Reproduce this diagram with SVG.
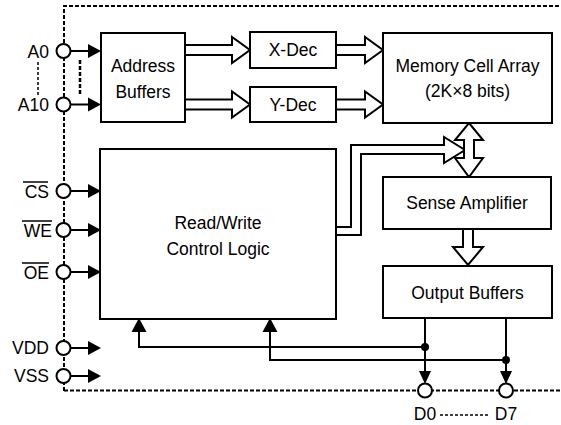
<svg xmlns="http://www.w3.org/2000/svg" width="561" height="425" viewBox="0 0 561 425">
<style>
  .box { fill: #fff; stroke: #000; stroke-width: 2; }
  .t { font-family: "Liberation Sans", Arial, sans-serif; font-size: 17.5px; fill: #000; text-anchor: middle; }
  .pl { font-family: "Liberation Sans", Arial, sans-serif; font-size: 17.5px; fill: #000; text-anchor: end; }
  .border { fill: none; stroke: #000; stroke-width: 2; stroke-dasharray: 4 2; }
  .wire { fill: none; stroke: #000; stroke-width: 2; }
  .hollow { fill: #fff; stroke: #000; stroke-width: 2; stroke-linejoin: miter; }
  .pin { fill: #fff; stroke: #000; stroke-width: 2; }
  .head { fill: #000; stroke: none; }
  .ol { stroke: #000; stroke-width: 1.5; }
</style>
<rect width="561" height="425" fill="#fff"/>

<!-- package border -->
<path class="border" d="M64,391 V6 H561"/>
<path class="border" d="M64,390.5 H561"/>

<g id="connectors">
  <!-- pin arrows -->
  <g class="wire">
    <line x1="70" y1="51" x2="89" y2="51"/>
    <line x1="70" y1="104.5" x2="89" y2="104.5"/>
    <line x1="70" y1="191" x2="89" y2="191"/>
    <line x1="70" y1="230" x2="89" y2="230"/>
    <line x1="70" y1="272" x2="89" y2="272"/>
    <line x1="70" y1="348" x2="89" y2="348"/>
    <line x1="70" y1="376" x2="89" y2="376"/>
  </g>
  <g class="head">
    <polygon points="88,44 101,51 88,58"/>
    <polygon points="88,97.5 101,104.5 88,111.5"/>
    <polygon points="88,184 101,191 88,198"/>
    <polygon points="88,223 101,230 88,237"/>
    <polygon points="88,265 101,272 88,279"/>
    <polygon points="88,341 101,348 88,355"/>
    <polygon points="88,369 101,376 88,383"/>
  </g>
  <!-- A0..A10 dotted indications -->
  <line x1="38" y1="62" x2="38" y2="97" stroke="#000" stroke-width="1.5" stroke-dasharray="3 2"/>
  <line x1="80" y1="60" x2="80" y2="96" stroke="#000" stroke-width="2.5" stroke-dasharray="4 2"/>

  <!-- hollow bus arrows -->
  <polygon class="hollow" points="185,45 232,45 232,37 250,50 232,63 232,55 185,55"/>
  <polygon class="hollow" points="185,99.5 232,99.5 232,91.5 250,104.5 232,117.5 232,109.5 185,109.5"/>
  <polygon class="hollow" points="336,45 365,45 365,37 383,50 365,63 365,55 336,55"/>
  <polygon class="hollow" points="336,99.5 365,99.5 365,91.5 383,104.5 365,117.5 365,109.5 336,109.5"/>
  <polygon class="hollow" points="336,227 351,227 351,145 444,145 444,137 465,150 444,163 444,154 361,154 361,235 336,235"/>
  <polygon class="hollow" points="469,123 483,140 474,140 474,158 483,158 469,177 455,158 464,158 464,140 455,140"/>
  <polygon class="hollow" points="463,229 473,229 473,247 483,247 468,265 453,247 463,247"/>

  <!-- output feedback wires -->
  <path class="wire" d="M425,318 V373"/>
  <path class="wire" d="M506,318 V373"/>
  <path class="wire" d="M425,347 H139 V331"/>
  <path class="wire" d="M506,360 H270 V331"/>
  <g class="head">
    <polygon points="131.5,332 146.5,332 139,318"/>
    <polygon points="262.5,332 277.5,332 270,318"/>
    <polygon points="419,371 431,371 425,384"/>
    <polygon points="500,371 512,371 506,384"/>
    <circle cx="425" cy="347" r="4"/>
    <circle cx="506" cy="360" r="4"/>
  </g>
</g>

<!-- pins -->
<g id="pin-A0"><circle class="pin" cx="63.5" cy="51" r="7"/><text class="pl" x="49" y="58">A0</text></g>
<g id="pin-A10"><circle class="pin" cx="63.5" cy="104.5" r="7"/><text class="pl" x="49" y="111">A10</text></g>
<g id="pin-CS"><circle class="pin" cx="63.5" cy="191" r="7"/><text class="pl" x="49" y="198">CS</text><line class="ol" x1="23" y1="182" x2="48" y2="182"/></g>
<g id="pin-WE"><circle class="pin" cx="63.5" cy="230" r="7"/><text class="pl" x="52" y="237">WE</text><line class="ol" x1="22" y1="221" x2="52" y2="221"/></g>
<g id="pin-OE"><circle class="pin" cx="63.5" cy="272" r="7"/><text class="pl" x="49" y="279">OE</text><line class="ol" x1="22" y1="263" x2="49" y2="263"/></g>
<g id="pin-VDD"><circle class="pin" cx="63.5" cy="348" r="7"/><text class="pl" x="49" y="354">VDD</text></g>
<g id="pin-VSS"><circle class="pin" cx="63.5" cy="376" r="7"/><text class="pl" x="49" y="382">VSS</text></g>
<g id="pin-D0"><circle class="pin" cx="425" cy="390.5" r="7"/><text class="t" x="425" y="420">D0</text></g>
<g id="pin-D7"><circle class="pin" cx="506" cy="390.5" r="7"/><text class="t" x="506" y="420">D7</text></g>
<line x1="440" y1="415" x2="490" y2="415" stroke="#000" stroke-width="1.5" stroke-dasharray="3 2"/>

<!-- blocks -->
<g id="address-buffers">
  <rect class="box" x="101" y="33" width="84" height="89"/>
  <text class="t" x="143" y="72">Address</text>
  <text class="t" x="143" y="98">Buffers</text>
</g>
<g id="x-dec">
  <rect class="box" x="250" y="32" width="86" height="36"/>
  <text class="t" x="293" y="56">X-Dec</text>
</g>
<g id="y-dec">
  <rect class="box" x="250" y="87" width="86" height="35"/>
  <text class="t" x="293" y="111">Y-Dec</text>
</g>
<g id="memory-cell-array">
  <rect class="box" x="383" y="33" width="169" height="90"/>
  <text class="t" x="467.5" y="72">Memory Cell Array</text>
  <text class="t" x="467.5" y="97">(2K×8 bits)</text>
</g>
<g id="control-logic">
  <rect class="box" x="100" y="149" width="236" height="170"/>
  <text class="t" x="218" y="229">Read/Write</text>
  <text class="t" x="218" y="255">Control Logic</text>
</g>
<g id="sense-amplifier">
  <rect class="box" x="383" y="177" width="168" height="52"/>
  <text class="t" x="467" y="209">Sense Amplifier</text>
</g>
<g id="output-buffers">
  <rect class="box" x="383" y="266" width="169" height="52"/>
  <text class="t" x="467.5" y="299">Output Buffers</text>
</g>
</svg>
